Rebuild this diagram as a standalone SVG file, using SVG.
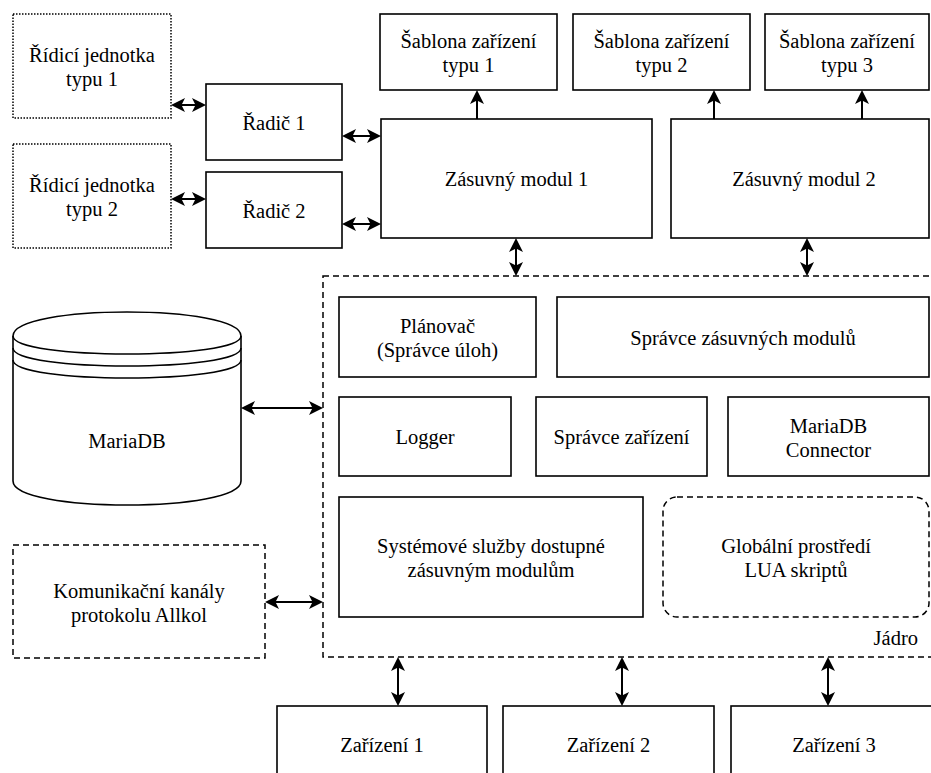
<svg xmlns="http://www.w3.org/2000/svg" width="931" height="773" viewBox="0 0 931 773">
<style>
.b{fill:#fff;stroke:#000;stroke-width:1.6}
.dot{fill:#fff;stroke:#000;stroke-width:1.5;stroke-dasharray:1.5 1.5}
.dash{fill:none;stroke:#000;stroke-width:1.5;stroke-dasharray:6 4}
.c{fill:none;stroke:#000;stroke-width:2;marker-end:url(#ah)}
.c2{fill:none;stroke:#000;stroke-width:2;marker-end:url(#ah);marker-start:url(#ah)}
</style>
<defs>
<marker id="ah" markerUnits="userSpaceOnUse" markerWidth="16" markerHeight="16" refX="12" refY="7" orient="auto-start-reverse" overflow="visible">
<path d="M0,0 L14,7 L0,14 L3.5,7 Z" fill="#000"/>
</marker>
</defs>
<g font-family="Times New Roman, Liberation Serif, Tinos, DejaVu Serif, serif" font-size="20.5" text-anchor="middle" fill="#000">

<g id="kernel">
<rect x="323" y="276" width="630" height="381" class="dash"/>
<text x="918" y="645" text-anchor="end">Jádro</text>
</g>

<g id="ridici1"><rect x="13" y="14" width="158" height="104" class="dot"/><text x="92" y="62">Řídicí jednotka</text><text x="92" y="86">typu 1</text></g>
<g id="ridici2"><rect x="13" y="144" width="158" height="104" class="dot"/><text x="92" y="192">Řídicí jednotka</text><text x="92" y="216">typu 2</text></g>
<g id="radic1"><rect x="206" y="84" width="136" height="76" class="b"/><text x="274" y="130">Řadič 1</text></g>
<g id="radic2"><rect x="206" y="172" width="136" height="76" class="b"/><text x="274" y="218">Řadič 2</text></g>

<g id="sablona1"><rect x="380" y="14" width="177" height="76" class="b"/><text x="468.5" y="48">Šablona zařízení</text><text x="468.5" y="72">typu 1</text></g>
<g id="sablona2"><rect x="573" y="14" width="177" height="76" class="b"/><text x="661.5" y="48">Šablona zařízení</text><text x="661.5" y="72">typu 2</text></g>
<g id="sablona3"><rect x="765" y="14" width="164" height="76" class="b"/><text x="847" y="48">Šablona zařízení</text><text x="847" y="72">typu 3</text></g>

<g id="zasuvny1"><rect x="381" y="119" width="271" height="119" class="b"/><text x="516.5" y="186">Zásuvný modul 1</text></g>
<g id="zasuvny2"><rect x="671" y="119" width="258" height="119" class="b"/><text x="804" y="186">Zásuvný modul 2</text></g>

<g id="planovac"><rect x="339" y="297" width="197" height="80" class="b"/><text x="437.5" y="333">Plánovač</text><text x="437.5" y="357">(Správce úloh)</text></g>
<g id="spravce-modulu"><rect x="557" y="297" width="372" height="80" class="b"/><text x="743" y="345">Správce zásuvných modulů</text></g>
<g id="logger"><rect x="339" y="397" width="172" height="79" class="b"/><text x="425" y="444">Logger</text></g>
<g id="spravce-zarizeni"><rect x="536" y="397" width="171" height="79" class="b"/><text x="621.5" y="444">Správce zařízení</text></g>
<g id="mariadb-connector"><rect x="728" y="397" width="201" height="79" class="b"/><text x="828.5" y="432.5">MariaDB</text><text x="828.5" y="456.5">Connector</text></g>
<g id="systemove"><rect x="339" y="497" width="304" height="120" class="b"/><text x="491" y="553">Systémové služby dostupné</text><text x="491" y="577">zásuvným modulům</text></g>
<g id="globalni"><rect x="663" y="497" width="266" height="120" rx="14" class="dash"/><text x="796" y="553">Globální prostředí</text><text x="796" y="577">LUA skriptů</text></g>

<g id="mariadb">
<path d="M13,336 C13,304 241,304 241,336 L241,481 C241,513 13,513 13,481 Z" class="b"/>
<path d="M13,336 C13,360 241,360 241,336 M13,348 C13,372 241,372 241,348 M13,360 C13,384 241,384 241,360" fill="none" stroke="#000" stroke-width="1.6"/>
<text x="127" y="448">MariaDB</text>
</g>

<g id="komunikacni"><rect x="13" y="545" width="252" height="113" class="dash" style="fill:#fff"/><text x="139" y="597.5">Komunikační kanály</text><text x="139" y="621.5">protokolu Allkol</text></g>

<g id="zarizeni1"><rect x="277" y="706" width="210" height="90" class="b"/><text x="382" y="752">Zařízení 1</text></g>
<g id="zarizeni2"><rect x="503" y="706" width="211" height="90" class="b"/><text x="608.5" y="752">Zařízení 2</text></g>
<g id="zarizeni3"><rect x="731" y="706" width="210" height="90" class="b"/><text x="834" y="752">Zařízení 3</text></g>

<g id="connectors">
<path class="c2" d="M173,105 H204"/>
<path class="c2" d="M173,199 H204"/>
<path class="c2" d="M344,136 H379"/>
<path class="c2" d="M344,224 H379"/>
<path class="c" d="M477,119 V92"/>
<path class="c" d="M714,119 V92"/>
<path class="c" d="M862,119 V92"/>
<path class="c2" d="M516,240 V274"/>
<path class="c2" d="M807,240 V274"/>
<path class="c2" d="M243,408 H321"/>
<path class="c2" d="M267,602 H321"/>
<path class="c2" d="M398,659 V704"/>
<path class="c2" d="M622,659 V704"/>
<path class="c2" d="M828,659 V704"/>
</g>
</g>
</svg>
